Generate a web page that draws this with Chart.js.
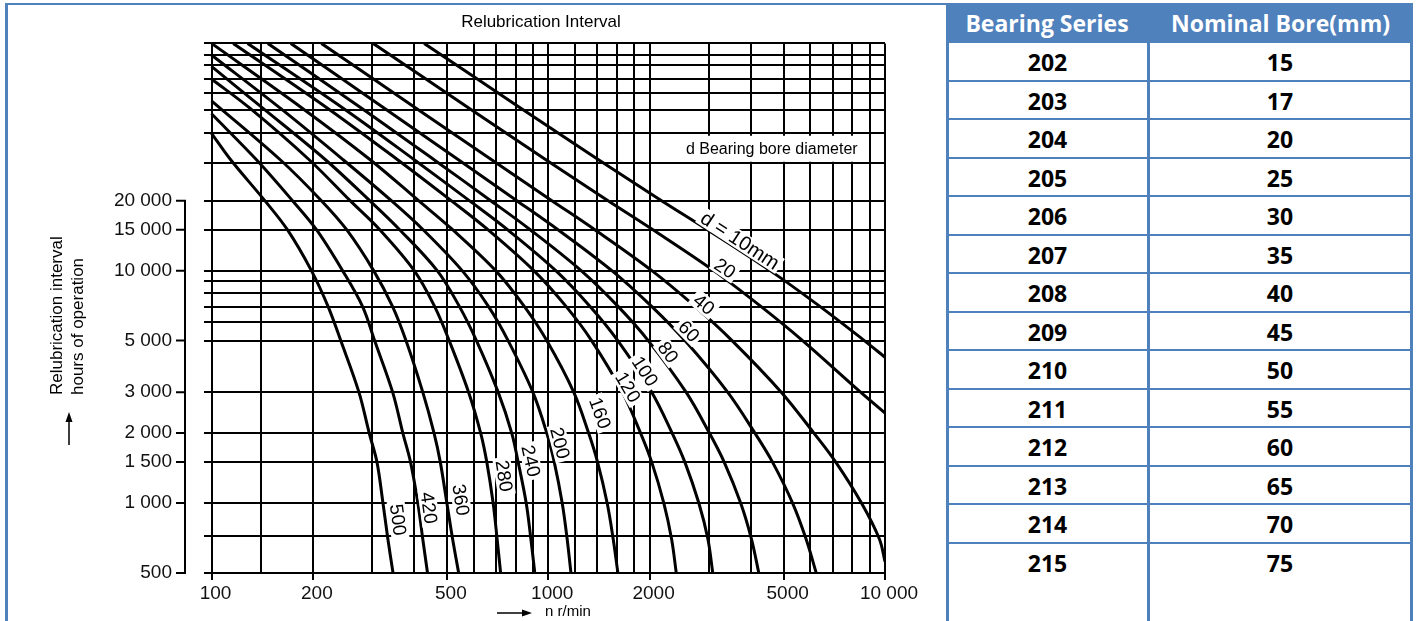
<!DOCTYPE html>
<html>
<head>
<meta charset="utf-8">
<title>Relubrication Interval</title>
<script src="https://cdn.jsdelivr.net/npm/chart.js@4.4.1/dist/chart.umd.min.js"></script>
<style>
  html, body { margin:0; padding:0; background:#fff; }
  body { width:1416px; height:621px; position:relative; overflow:hidden; }
  #chartBox { position:absolute; left:0; top:0; width:930px; height:621px; }
  .bar { position:absolute; background:#4f81bd; }
  .cell { position:absolute; text-align:center; font-family:'Open Sans', sans-serif; font-weight:700; font-size:23px; color:#000; }
  .head { color:#fff; }
</style>
</head>
<body>
<div class="bar" style="left:5px;top:3px;width:3px;height:618px"></div>
<div class="bar" style="left:5px;top:3px;width:942px;height:2px"></div>
<div id="chartBox"><canvas id="c" width="930" height="621"></canvas></div>
<div id="table"></div>
<script>
// table on the right
const bearingSeries = ['202','203','204','205','206','207','208','209','210','211','212','213','214','215'];
const nominalBore = [15, 17, 20, 25, 30, 35, 40, 45, 50, 55, 60, 65, 70, 75];

// grid lines and tick labels
const xGrid = [100,140,200,300,400,500,600,700,800,900,1000,1200,1400,1600,1800,2000,3000,4000,5000,6000,7000,8000,9000,10000];
const yGrid = [500,720,1000,1500,2000,3000,5000,6000,7000,8000,9000,10000,15000,20000,29000,39000,49000,58000,67000,77000,85000,95000];
const xTickValues = [100,200,500,1000,2000,5000,10000];
const xTickText = ['100','200','500','1000','2000','5000','10 000'];
const yTickValues = [500,1000,1500,2000,3000,5000,10000,15000,20000];
const yTickText = ['500','1 000','1 500','2 000','3 000','5 000','10 000','15 000','20 000'];

// curves: [speed n r/min, hours]
const d10  = [[428,95000],[829,50000],[1410,30000],[2170,20000],[2970,15000],[4560,10000],[6420,7000],[8680,5000],[10000,4240]];
const d20  = [[302,95000],[582,50000],[984,30000],[1505,20000],[2046,15000],[3100,10000],[4288,7000],[5692,5000],[8461,3000],[10000,2440]];
const d40  = [[212,95000],[405,50000],[679,30000],[1025,20000],[1375,15000],[2031,10000],[2733,7000],[3514,5000],[4919,3000],[6149,2000],[7141,1500],[8514,1000],[9624,700],[10000,560]];
const d60  = [[172,95000],[326,50000],[541,30000],[807,20000],[1069,15000],[1545,10000],[2031,7000],[2546,5000],[3410,3000],[4108,2000],[4634,1500],[5316,1000],[5830,700],[6250,500]];
const d80  = [[147,95000],[279,50000],[458,30000],[675,20000],[884,15000],[1252,10000],[1614,7000],[1981,5000],[2566,3000],[3010,2000],[3330,1500],[3727,1000],[4013,700],[4220,500]];
const d100 = [[128,95000],[246,50000],[400,30000],[583,20000],[757,15000],[1053,10000],[1333,7000],[1609,5000],[2029,3000],[2333,2000],[2545,1500],[2800,1000],[2979,700],[3080,500]];
const d120 = [[116,95000],[221,50000],[357,30000],[515,20000],[662,15000],[906,10000],[1131,7000],[1345,5000],[1660,3000],[1880,2000],[2029,1500],[2204,1000],[2324,700],[2400,500]];
const d160 = [[100,95000],[186,50000],[296,30000],[412,20000],[520,15000],[698,10000],[850,7000],[990,5000],[1190,3000],[1318,2000],[1401,1500],[1496,1000],[1559,700],[1610,500]];
const d200 = [[100,84700],[160,50000],[246,30000],[342,20000],[425,15000],[555,10000],[665,7000],[760,5000],[900,3000],[990,2000],[1042,1500],[1100,1000],[1138,700],[1168,500]];
const d240 = [[100,75600],[142,50000],[218,30000],[295,20000],[362,15000],[468,10000],[545,7000],[612,5000],[710,3000],[779,2000],[814,1500],[860,1000],[888,700],[912,500]];
const d280 = [[100,66800],[130,50000],[195,30000],[258,20000],[316,15000],[400,10000],[460,7000],[508,5000],[580,3000],[630,2000],[657,1500],[686,1000],[705,700],[722,500]];
const d360 = [[100,53800],[160,30000],[212,20000],[252,15000],[303,10000],[345,7000],[378,5000],[424,3000],[458,2000],[478,1500],[500,1000],[520,700],[542,500]];
const d420 = [[100,47300],[136,30000],[174,20000],[205,15000],[245,10000],[281,7000],[305,5000],[345,3000],[370,2000],[390,1500],[410,1000],[424,700],[438,500]];
const d500 = [[100,39000],[114,30000],[144,20000],[168,15000],[198,10000],[222,7000],[242,5000],[274,3000],[294,2000],[310,1500],[323,1000],[334,700],[346,500]];

const curves = [d10, d20, d40, d60, d80, d100, d120, d160, d200, d240, d280, d360, d420, d500];
const curveNames = ['d = 10mm','20','40','60','80','100','120','160','200','240','280','360','420','500'];
// where each name sits, [n, hours]
const labelAt = [[3710,13480],[3347,10220],[2900,7160],[2617,5480],[2267,4455],[1937,3692],[1724,3152],[1424,2438],[1083,1812],[888,1517],[739,1308],[550,1032],[442,953],[358,847]];

const FONT = '"Liberation Sans", Arial, sans-serif';

const decor = {
  id: 'decor',
  afterDatasetsDraw(chart) {
    const {ctx, scales: {x, y}} = chart;
    ctx.save();
    ctx.textAlign = 'center';
    ctx.textBaseline = 'middle';
    curveNames.forEach((name, i) => {
      const px = x.getPixelForValue(labelAt[i][0]);
      const py = y.getPixelForValue(labelAt[i][1]);
      const pts = chart.getDatasetMeta(i).data;
      let ang = 0;
      for (let k = 0; k < pts.length - 1; k++) {
        if (pts[k].y <= py && pts[k + 1].y >= py) {
          ang = Math.atan2(pts[k + 1].y - pts[k].y, pts[k + 1].x - pts[k].x);
          break;
        }
      }
      ctx.font = (i === 0 ? '20px ' : '19px ') + FONT;
      const w = ctx.measureText(name).width;
      ctx.save();
      ctx.translate(px, py);
      ctx.rotate(ang);
      ctx.fillStyle = '#fff';
      ctx.fillRect(-w / 2 - 3, -9, w + 6, 18);
      ctx.fillStyle = '#000';
      ctx.fillText(name, 0, 1);
      ctx.restore();
    });
    // note box
    ctx.font = '16px ' + FONT;
    ctx.textAlign = 'left';
    const nx = x.getPixelForValue(2564), ny = y.getPixelForValue(33450);
    const nw = ctx.measureText('d Bearing bore diameter').width;
    ctx.fillStyle = '#fff';
    ctx.fillRect(nx - 3, ny - 13, nw + 6, 26);
    ctx.fillStyle = '#000';
    ctx.fillText('d Bearing bore diameter', nx, ny + 1);
    ctx.restore();
  },
  afterDraw(chart) {
    const {ctx, scales: {y}, chartArea} = chart;
    ctx.save();
    ctx.strokeStyle = '#000';
    ctx.fillStyle = '#000';
    ctx.lineWidth = 2;
    // detached vertical axis
    const ax = chartArea.left - 19;
    ctx.beginPath();
    ctx.moveTo(ax, y.getPixelForValue(20000) - 1);
    ctx.lineTo(ax, y.getPixelForValue(500) + 1);
    yTickValues.forEach(v => {
      const py = y.getPixelForValue(v);
      ctx.moveTo(ax - 9, py);
      ctx.lineTo(ax, py);
    });
    ctx.stroke();
    // titles
    ctx.font = '17px ' + FONT;
    ctx.textAlign = 'center';
    ctx.textBaseline = 'middle';
    ctx.fillText('Relubrication Interval', 541, 22);
    ctx.save();
    ctx.translate(57, 395);
    ctx.rotate(-Math.PI / 2);
    ctx.textAlign = 'left';
    ctx.fillText('Relubrication interval', 0, 0);
    ctx.fillText('hours of operation', 0, 21);
    ctx.restore();
    ctx.font = '15px ' + FONT;
    ctx.textAlign = 'left';
    ctx.fillText('n r/min', 545, 612);
    // arrows
    ctx.lineWidth = 1.5;
    ctx.beginPath();
    ctx.moveTo(69, 445); ctx.lineTo(69, 420);
    ctx.moveTo(497, 613); ctx.lineTo(524, 613);
    ctx.stroke();
    ctx.beginPath();
    ctx.moveTo(69, 412); ctx.lineTo(65.5, 422); ctx.lineTo(72.5, 422); ctx.closePath();
    ctx.moveTo(532, 613); ctx.lineTo(522, 609.5); ctx.lineTo(522, 616.5); ctx.closePath();
    ctx.fill();
    ctx.restore();
  }
};

new Chart(document.getElementById('c'), {
  type: 'scatter',
  data: {
    datasets: curves.map((pts, i) => ({
      label: curveNames[i],
      data: pts.map(([n, h]) => ({x: n, y: h})),
      showLine: true,
      borderColor: '#000',
      borderWidth: 3,
      pointRadius: 0,
      tension: 0.35,
      fill: false
    }))
  },
  options: {
    responsive: false,
    animation: false,
    devicePixelRatio: 1,
    layout: { padding: { left: 0, right: 45, top: 42, bottom: 0 } },
    plugins: { legend: { display: false }, tooltip: { enabled: false } },
    scales: {
      x: {
        type: 'logarithmic', min: 95, max: 10000, bounds: 'data',
        afterBuildTicks: s => { s.ticks = xGrid.map(v => ({value: v})); },
        afterFit: s => { s.height = 48; },
        grid: {
          color: '#000', lineWidth: 2, drawTicks: true, tickLength: 7, tickWidth: 2,
          tickColor: c => (c.tick && xTickValues.includes(c.tick.value)) ? '#000' : 'rgba(0,0,0,0)'
        },
        border: { display: false },
        ticks: {
          autoSkip: false, maxRotation: 0, minRotation: 0, padding: 2, labelOffset: 4,
          color: '#111', font: { family: FONT, size: 19 },
          callback: v => { const k = xTickValues.indexOf(v); return k < 0 ? '' : xTickText[k]; }
        }
      },
      y: {
        type: 'logarithmic', min: 500, max: 95000, bounds: 'data',
        afterBuildTicks: s => { s.ticks = yGrid.map(v => ({value: v})); },
        afterFit: s => { s.width = 204; },
        grid: { color: '#000', lineWidth: 2, drawTicks: false },
        border: { display: false },
        ticks: {
          autoSkip: false, padding: 32,
          color: '#111', font: { family: FONT, size: 19 },
          callback: v => { const k = yTickValues.indexOf(v); return k < 0 ? '' : yTickText[k]; }
        }
      }
    }
  },
  plugins: [decor]
});

// build the bearing table
const tbl = document.getElementById('table');
function add(cls, style, text) {
  const d = document.createElement('div');
  d.className = cls;
  d.style.cssText = style;
  if (text !== undefined) d.textContent = text;
  tbl.appendChild(d);
}
const rowH = 38.5, top0 = 42;
add('bar', 'left:946px;top:3px;width:467px;height:40px');
add('cell head', 'left:946px;top:4px;width:202px;height:39px;line-height:39px', 'Bearing Series');
add('cell head', 'left:1148px;top:4px;width:265px;height:39px;line-height:39px', 'Nominal Bore(mm)');
bearingSeries.forEach((s, i) => {
  const t = top0 + rowH * i;
  add('bar', `left:946px;top:${t - 1}px;width:467px;height:2px`);
  add('cell', `left:948px;top:${t + 1}px;width:199px;height:${rowH}px;line-height:${rowH}px`, s);
  add('cell', `left:1150px;top:${t + 1}px;width:260px;height:${rowH}px;line-height:${rowH}px`, String(nominalBore[i]));
});
add('bar', `left:946px;top:${top0}px;width:3px;height:${621 - top0}px`);
add('bar', `left:1147px;top:${top0}px;width:3px;height:${621 - top0}px`);
add('bar', `left:1410px;top:${top0}px;width:3px;height:${621 - top0}px`);
</script>
</body>
</html>
